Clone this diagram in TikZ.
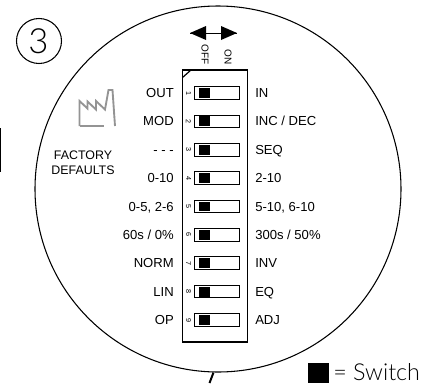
\documentclass[tikz,border=0pt]{standalone}
\usepackage{fontspec}
\setmainfont{Liberation Sans}
\newfontfamily\lightfont{Lato Light}
\begin{document}
\begin{tikzpicture}[x=0.75pt,y=-0.75pt,
  lbl/.style={font=\fontsize{9.8pt}{11pt}\selectfont,inner sep=0pt},
  leftlbl/.style={lbl,anchor=base east},
  rightlbl/.style={lbl,anchor=base west},
  swbox/.style={draw,line width=0.7pt,minimum width=33.75pt,minimum height=9.4pt,inner sep=0pt},
  knob/.style={fill=black,minimum width=7.9pt,minimum height=7.4pt,inner sep=0pt},
  num/.style={font=\fontsize{5.4pt}{6pt}\selectfont,rotate=-90,inner sep=0pt},
  icon/.style={draw=black!42,line width=1.4pt,line join=miter}]
\useasboundingbox (0,0) rectangle (433,383);
\draw[line width=0.8pt] (218,189) circle (183);
\draw[line width=0.8pt] (39,41) circle (22.5);
\node[font=\lightfont\fontsize{26pt}{27pt}\selectfont,inner sep=0pt] (three) at (38.5,41.5) {3};
\draw[line width=1pt] (0.5,128) -- (0.5,172);
\coordinate (tailA) at (213.5,372.5);
\coordinate (tailB) at (209.5,383);
\draw[line width=1.5pt] (tailA) -- (tailB);
% arrows
\coordinate (al) at (190,33);
\coordinate (ar) at (237,33);
\draw[line width=0.7pt] (al) -- (ar);
\fill (al) -- (206,26) -- (206,40) -- cycle;
\fill (ar) -- (221,26) -- (221,40) -- cycle;
\node[font=\fontsize{7.5pt}{8pt}\selectfont,rotate=-90,inner sep=0pt,anchor=east] (off) at (205,65) {OFF};
\node[font=\fontsize{7.5pt}{8pt}\selectfont,rotate=-90,inner sep=0pt,anchor=east] (on) at (228,65) {ON};
% panel
\draw[line width=0.9pt] (182.5,70) rectangle (247.5,342);
\draw[line width=0.9pt] (182.5,77.5) -- (191,70);
% factory icon
\draw[icon] (79.5,126) -- (79.5,101) -- (87.5,108.5) -- (87.5,101.5) -- (96,109.5) -- (96,101) -- (105,109.5) -- (108.5,90) -- (112.5,90) -- (115,126);
\draw[icon] (79.5,126) -- (103.5,126);
\node[lbl,font=\fontsize{9.3pt}{11.2pt}\selectfont,align=center,anchor=center] (fd) at (83,163) {FACTORY\\DEFAULTS};
% switches
\foreach \n/\y/\l/\r in {1/93/OUT/IN,2/121.4/MOD/{INC / DEC},3/149.8/- - -/SEQ,4/178.1/0-10/2-10,5/206.5/{0-5, 2-6}/{5-10, 6-10},6/234.9/{60s / 0\%}/{300s / 50\%},7/263.2/NORM/INV,8/291.6/LIN/EQ,9/320/OP/ADJ}{
  \node[swbox] (b\n) at (217,\y) {};
  \node[knob] (k\n) at (204.3,\y) {};
  \node[num] (n\n) at (188.5,\y) {\n};
  \node[leftlbl] (l\n) at (174,\y+4.5) {\l};
  \node[rightlbl] (r\n) at (255,\y+4.5) {\r};
}
% legend
\node[fill=black,minimum width=15.75pt,minimum height=14.5pt,inner sep=0pt,anchor=north west] (leg) at (308,363) {};
\node[font=\lightfont\fontsize{17.5pt}{18pt}\selectfont,inner sep=0pt,anchor=base west] (legt) at (333,380) {= Switch};
\end{tikzpicture}
\end{document}
